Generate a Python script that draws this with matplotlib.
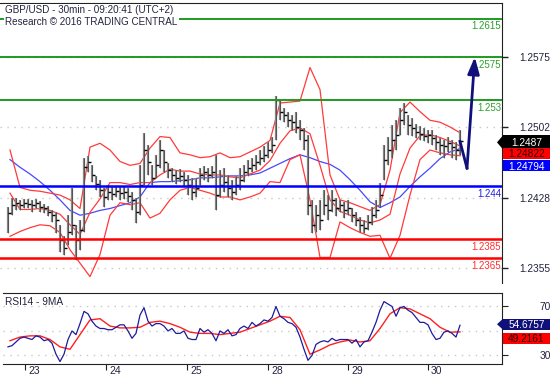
import numpy as np
import matplotlib
matplotlib.use('Agg')
import matplotlib.pyplot as plt
from matplotlib.patches import Polygon

plt.rcParams['font.family'] = ['Liberation Sans', 'DejaVu Sans']

# ---- data (30min bars, resampled, one value per bar) ----
closes = [1.2412, 1.2421, 1.2423, 1.2421, 1.2423, 1.2422, 1.2421, 1.2423, 1.2419, 1.2418,
          1.2413, 1.2410, 1.2405, 1.2384, 1.2376, 1.2393, 1.2400, 1.2384, 1.2395, 1.2460,
          1.2466, 1.2452, 1.2443, 1.2436, 1.2429, 1.2434, 1.2432, 1.2435, 1.2433, 1.2434,
          1.2430, 1.2426, 1.2413, 1.2442, 1.2478, 1.2466, 1.2449, 1.2462, 1.2478, 1.2466,
          1.2457, 1.2452, 1.2449, 1.2451, 1.2447, 1.2442, 1.2434, 1.2438, 1.2452, 1.2455,
          1.2452, 1.2455, 1.2431, 1.2442, 1.2445, 1.2438, 1.2434, 1.2441, 1.2447, 1.2455,
          1.2459, 1.2462, 1.2466, 1.2470, 1.2473, 1.2478, 1.2483, 1.2530, 1.2518, 1.2515,
          1.2509, 1.2507, 1.2502, 1.2499, 1.2488, 1.2421, 1.2400, 1.2410, 1.2405, 1.2421,
          1.2415, 1.2426, 1.2418, 1.2421, 1.2415, 1.2418, 1.2410, 1.2405, 1.2400, 1.2397,
          1.2403, 1.2410, 1.2415, 1.2431, 1.2468, 1.2478, 1.2488, 1.2494, 1.2509, 1.2518,
          1.2504, 1.2501, 1.2497, 1.2495, 1.2493, 1.2494, 1.2491, 1.2486, 1.2483, 1.2482,
          1.2485, 1.2481, 1.2478, 1.2487]
highs = [1.2419, 1.2428, 1.2428, 1.2426, 1.2427, 1.2427, 1.2426, 1.2427, 1.2425, 1.2422,
         1.2420, 1.2415, 1.2413, 1.2400, 1.2388, 1.2410, 1.2438, 1.2400, 1.2405, 1.2470,
         1.2472, 1.2462, 1.2451, 1.2447, 1.2438, 1.2442, 1.2439, 1.2440, 1.2439, 1.2440,
         1.2438, 1.2434, 1.2428, 1.2462, 1.2496, 1.2483, 1.2462, 1.2473, 1.2488, 1.2478,
         1.2464, 1.2459, 1.2457, 1.2458, 1.2455, 1.2452, 1.2449, 1.2449, 1.2459, 1.2461,
         1.2459, 1.2461, 1.2473, 1.2457, 1.2459, 1.2452, 1.2447, 1.2451, 1.2459, 1.2462,
         1.2468, 1.2470, 1.2473, 1.2478, 1.2482, 1.2486, 1.2492, 1.2534, 1.2530, 1.2522,
         1.2518, 1.2515, 1.2518, 1.2509, 1.2501, 1.2494, 1.2426, 1.2421, 1.2426, 1.2436,
         1.2431, 1.2436, 1.2428, 1.2426, 1.2424, 1.2426, 1.2418, 1.2413, 1.2408, 1.2405,
         1.2410, 1.2419, 1.2426, 1.2444, 1.2483, 1.2492, 1.2504, 1.2509, 1.2522, 1.2527,
         1.2515, 1.2511, 1.2505, 1.2503, 1.2501, 1.2499, 1.2499, 1.2494, 1.2491, 1.2488,
         1.2492, 1.2488, 1.2486, 1.2499]
lows = [1.2391, 1.2410, 1.2415, 1.2415, 1.2418, 1.2417, 1.2413, 1.2418, 1.2413, 1.2412,
        1.2409, 1.2403, 1.2391, 1.2372, 1.2368, 1.2379, 1.2389, 1.2363, 1.2374, 1.2393,
        1.2455, 1.2445, 1.2436, 1.2429, 1.2419, 1.2426, 1.2426, 1.2429, 1.2426, 1.2427,
        1.2424, 1.2415, 1.2402, 1.2410, 1.2442, 1.2452, 1.2442, 1.2449, 1.2459, 1.2455,
        1.2449, 1.2445, 1.2443, 1.2445, 1.2439, 1.2431, 1.2426, 1.2429, 1.2442, 1.2447,
        1.2445, 1.2449, 1.2415, 1.2429, 1.2434, 1.2429, 1.2426, 1.2431, 1.2436, 1.2445,
        1.2451, 1.2455, 1.2457, 1.2462, 1.2466, 1.2470, 1.2475, 1.2488, 1.2509, 1.2507,
        1.2502, 1.2499, 1.2496, 1.2488, 1.2478, 1.2410, 1.2391, 1.2393, 1.2395, 1.2410,
        1.2405, 1.2413, 1.2409, 1.2413, 1.2407, 1.2410, 1.2403, 1.2399, 1.2393, 1.2391,
        1.2395, 1.2400, 1.2407, 1.2419, 1.2447, 1.2462, 1.2470, 1.2478, 1.2494, 1.2504,
        1.2494, 1.2493, 1.2491, 1.2488, 1.2487, 1.2485, 1.2483, 1.2478, 1.2473, 1.2470,
        1.2476, 1.2470, 1.2468, 1.2473]

# indicators, sampled every 2.5 bars
bb_upper = [1.2478, 1.2439, 1.2436, 1.2435, 1.2433, 1.2431, 1.2426, 1.2417, 1.2481, 1.2485,
            1.2478, 1.2466, 1.2462, 1.2464, 1.2480, 1.2492, 1.2491, 1.2475, 1.2473, 1.2470,
            1.2471, 1.2475, 1.2470, 1.2471, 1.2476, 1.2481, 1.2488, 1.2527, 1.2528, 1.2529,
            1.2564, 1.2541, 1.2452, 1.2426, 1.2423, 1.2419, 1.2415, 1.2421, 1.2457, 1.2517,
            1.2528, 1.2518, 1.2509, 1.2507, 1.2502, 1.2496]
bb_mid = [1.2433, 1.2416, 1.2416, 1.2417, 1.2415, 1.2411, 1.2400, 1.2390, 1.2413, 1.2427,
          1.2444, 1.2444, 1.2442, 1.2444, 1.2444, 1.2452, 1.2458, 1.2456, 1.2456, 1.2453,
          1.2452, 1.2452, 1.2450, 1.2449, 1.2453, 1.2457, 1.2467, 1.2485, 1.2498, 1.2501,
          1.2495, 1.2462, 1.2426, 1.2414, 1.2410, 1.2405, 1.2402, 1.2405, 1.2411, 1.2453,
          1.2480, 1.2493, 1.2494, 1.2491, 1.2487, 1.24822]
bb_lower = [1.2388, 1.2393, 1.2397, 1.2400, 1.2399, 1.2392, 1.2374, 1.2360, 1.2346, 1.2369,
            1.2410, 1.2423, 1.2421, 1.2423, 1.2407, 1.2412, 1.2426, 1.2436, 1.2439, 1.2436,
            1.2433, 1.2429, 1.2429, 1.2426, 1.2429, 1.2433, 1.2445, 1.2444, 1.2468, 1.2473,
            1.2426, 1.2366, 1.2366, 1.2403, 1.2397, 1.2392, 1.2388, 1.2389, 1.2365, 1.2389,
            1.2431, 1.2468, 1.2478, 1.2475, 1.2473, 1.2472]
ma_blue = [1.2468, 1.2460, 1.2453, 1.2445, 1.2436, 1.2426, 1.2415, 1.2410, 1.2412, 1.2415,
           1.2417, 1.2420, 1.2423, 1.2429, 1.2444, 1.2445, 1.2445, 1.2446, 1.2447, 1.2449,
           1.2449, 1.2450, 1.2451, 1.2451, 1.2452, 1.2454, 1.2459, 1.2464, 1.2469, 1.2473,
           1.2470, 1.2466, 1.2463, 1.2457, 1.2447, 1.2436, 1.2424, 1.2418, 1.2423, 1.2429,
           1.2440, 1.2450, 1.2459, 1.2469, 1.2476, 1.24794]

rsi = [37, 38, 41, 44, 45, 44, 43, 46, 45, 42, 43, 40, 31, 25, 31, 43, 50, 47, 56, 66,
       64, 58, 54, 52, 52, 51, 51, 53, 55, 55, 50, 44, 48, 63, 69, 58, 54, 56, 56, 54,
       50, 52, 48, 48, 50, 44, 43, 43, 52, 49, 51, 48, 42, 50, 48, 51, 46, 47, 52, 54,
       52, 57, 54, 56, 59, 58, 61, 70, 62, 60, 57, 56, 53, 45, 35, 26, 30, 39, 41, 42,
       41, 44, 42, 43, 43, 43, 40, 43, 37, 41, 42, 49, 57, 67, 74, 72, 70, 62, 69, 70,
       67, 65, 61, 57, 57, 55, 48, 43, 44, 49, 50, 48, 45, 54.6757]
rsi_ma = [42, 45, 46, 46, 43, 37, 35, 47, 59, 60, 54, 52.5, 52.5, 53, 57, 58, 56, 53, 49, 48,
          48, 47, 48, 49, 52, 55, 58, 62, 61, 51, 31, 34.5, 38.6, 41, 42.6, 41, 42, 52, 64, 69,
          68, 64, 60, 53, 49, 49.2161]

# support / resistance levels
res_levels = [1.2615, 1.2575, 1.253]
pivot_level = 1.244
sup_levels = [1.2385, 1.2365]

# forecast path (bar index, price)
fc_x = [113, 114.75, 116.7]
fc_y = [1.2487, 1.2459, 1.2575]

price_ticks = [1.2575, 1.2502, 1.2428, 1.2355]
rsi_ticks = [70, 50, 30]
day_pos = [4.25, 24.5, 44.75, 65, 85, 105]
day_labels = ['23', '24', '25', '28', '29', '30']

last_close = 1.2487
last_mid = 1.24822
last_ma = 1.24794
last_rsi = 54.6757
last_rsi_ma = 49.2161

# ---- drawing ----
txt = '#23233f'
W, H = 557, 378
fig = plt.figure(figsize=(W / 100, H / 100), dpi=100)
ax = fig.add_axes([0, 1 - 283 / H, 502 / W, 280 / H])
ax2 = fig.add_axes([3 / W, 1 - 364 / H, 499 / W, 71 / H])

x = np.arange(len(closes))
bx = np.arange(len(bb_upper)) * 2.5 + 0.5

ax.set_xlim(-2, 123.5)
ax.set_ylim(1.23393, 1.26313)
for p in price_ticks:
    ax.axhline(p, color='#c8c8c8', lw=1, ls=(0, (1, 4)), zorder=0)

ax.plot(bx, ma_blue, color='#4848ff', lw=0.9, zorder=2)
ax.plot(bx, bb_upper, color='#ff3a3a', lw=0.9, zorder=2)
ax.plot(bx, bb_mid, color='#ff3a3a', lw=0.9, zorder=2)
ax.plot(bx, bb_lower, color='#ff3a3a', lw=0.9, zorder=2)

ax.vlines(x, lows, highs, color='#858585', lw=1.6, zorder=3)
ax.vlines(x, lows, highs, color='#303030', lw=0.4, zorder=3)
ax.hlines(closes, x, x + 0.7, color='black', lw=1.0, zorder=3)

for lv in res_levels:
    ax.axhline(lv, color='#1f9a1f', lw=1.4, zorder=4)
    ax.annotate(str(lv), xy=(0.998, lv), xycoords=('axes fraction', 'data'),
                xytext=(0, -2), textcoords='offset points', ha='right', va='top',
                fontsize=7, color='#2aa02a', zorder=5)
ax.axhline(pivot_level, color='#0000ff', lw=1.8, zorder=4)
ax.annotate(str(pivot_level), xy=(0.998, pivot_level), xycoords=('axes fraction', 'data'),
            xytext=(0, -2), textcoords='offset points', ha='right', va='top',
            fontsize=7, color='#2020e0', zorder=5)
for lv in sup_levels:
    ax.axhline(lv, color='#ff0000', lw=1.8, zorder=4)
    ax.annotate(str(lv), xy=(0.998, lv), xycoords=('axes fraction', 'data'),
                xytext=(0, -2), textcoords='offset points', ha='right', va='top',
                fontsize=7, color='#ff3030', zorder=5)

ax.plot(fc_x[:2], fc_y[:2], color='#10107a', lw=2, zorder=6)
ax.annotate('', xy=(fc_x[2], fc_y[2]), xytext=(fc_x[1], fc_y[1]),
            arrowprops=dict(arrowstyle='-|>,head_length=1.0,head_width=0.35',
                            color='#10107a', lw=2, shrinkA=0, shrinkB=0), zorder=6)

ax.text(0.01, 0.992, 'GBP/USD - 30min - 09:20:41 (UTC+2)\nResearch \u00a9 2016 TRADING CENTRAL',
        transform=ax.transAxes, ha='left', va='top', fontsize=7.1, color=txt,
        linespacing=1.2, bbox=dict(fc='white', ec='none', pad=1), zorder=7)

for s in ['left', 'bottom']:
    ax.spines[s].set_visible(False)
ax.spines['top'].set_color('#222222')
ax.spines['right'].set_color('#222222')
ax.set_xticks([])
ax.yaxis.tick_right()
ax.set_yticks(price_ticks)
ax.set_yticklabels([f'{p:.4f}' for p in price_ticks])
ax.tick_params(axis='y', direction='out', length=4, width=1, color='#222222',
               labelsize=7.3, labelcolor=txt, pad=31)
for lab in ax.get_yticklabels():
    lab.set_ha('right')

# RSI panel
rx = np.arange(len(rsi))
ax2.set_xlim(-1.25, 123.5)
ax2.set_ylim(23, 81)
for r in rsi_ticks:
    ax2.axhline(r, color='#c8c8c8', lw=1, ls=(0, (1, 4)), zorder=0)
ax2.plot(bx, rsi_ma, color='#ff2020', lw=1.0, zorder=2)
ax2.plot(rx, rsi, color='#1c1c9a', lw=0.9, zorder=3)
ax2.text(0.005, 0.95, 'RSI14 - 9MA', transform=ax2.transAxes, ha='left', va='top',
         fontsize=7.3, color=txt)
ax2.spines['left'].set_visible(False)
for s in ['top', 'bottom', 'right']:
    ax2.spines[s].set_color('#222222')
ax2.yaxis.tick_right()
ax2.set_yticks([70, 30])
ax2.set_yticklabels(['70', '30'])
ax2.tick_params(axis='y', direction='out', length=4, color='#222222',
                labelsize=7.3, labelcolor=txt, pad=31)
for lab in ax2.get_yticklabels():
    lab.set_ha('right')
ax2.set_xticks(day_pos)
ax2.set_xticklabels([])
ax2.tick_params(axis='x', direction='out', length=4, color='#222222')
for d, lbl in zip(day_pos, day_labels):
    ax2.annotate(lbl, xy=(d, 0), xycoords=('data', 'axes fraction'), xytext=(3, -2),
                 textcoords='offset pixels', ha='left', va='top', fontsize=7.5,
                 color=txt, annotation_clip=False)


def value_box(axis, val, label, fc, tc, dy, h, notch=False):
    # box in figure pixels, dy = shift down from the value's own height
    yc = axis.transData.transform((0, val))[1] - dy
    x0, x1 = 503, 550
    fig.add_artist(plt.Rectangle((x0 / W, (yc - h / 2) / H), (x1 - x0) / W, h / H,
                                 transform=fig.transFigure, fc=fc, ec='none', zorder=8))
    if notch:
        fig.add_artist(Polygon([(497 / W, yc / H), (x0 / W, (yc + h / 2) / H),
                                (x0 / W, (yc - h / 2) / H)], closed=True,
                               transform=fig.transFigure, fc=fc, ec='none', zorder=8))
    fig.text((x0 + x1) / 2 / W, yc / H, label, ha='center', va='center_baseline',
             fontsize=7.3, color=tc, zorder=9)


value_box(ax, last_close, f'{last_close:.4f}', 'black', 'white', 1, 14, notch=True)
value_box(ax, last_mid, f'{last_mid:.5f}', '#ff0000', '#2a0000', 7.5, 11)
value_box(ax, last_ma, f'{last_ma:.5f}', '#0000ff', 'white', 17, 11)
value_box(ax2, last_rsi, f'{last_rsi:.4f}', '#10107a', 'white', -1, 11, notch=True)
value_box(ax2, last_rsi_ma, f'{last_rsi_ma:.4f}', '#ff0000', '#2a0000', 6.5, 11)

fig.savefig('out.png', dpi=100)
